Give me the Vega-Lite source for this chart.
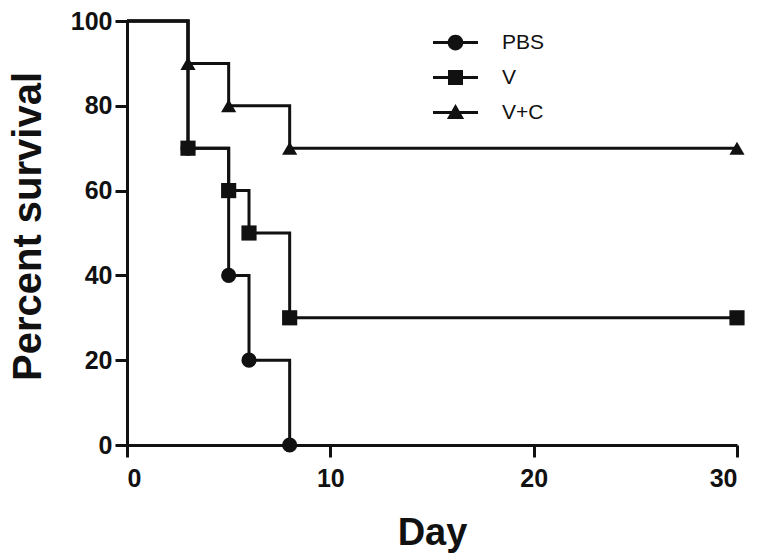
{
  "$schema": "https://vega.github.io/schema/vega-lite/v6.json",
  "autosize": "none",
  "width": 610,
  "height": 424,
  "padding": {"left": 127, "top": 21, "right": 25, "bottom": 115},
  "background": "white",
  "config": {
    "view": {"stroke": null},
    "axis": {
      "grid": false,
      "domainColor": "#111111",
      "domainWidth": 3,
      "tickColor": "#111111",
      "tickWidth": 3,
      "tickSize": 12,
      "labelFont": "Liberation Sans",
      "labelFontWeight": "bold",
      "labelFontSize": 25,
      "labelColor": "#111111",
      "labelPadding": 3,
      "titleFont": "Liberation Sans",
      "titleFontWeight": "bold",
      "titleColor": "#111111"
    }
  },
  "data": {
    "values": [
      {"group": "PBS", "day": 0, "pct": 100, "marker": false},
      {"group": "PBS", "day": 3, "pct": 70, "marker": true},
      {"group": "PBS", "day": 5, "pct": 40, "marker": true},
      {"group": "PBS", "day": 6, "pct": 20, "marker": true},
      {"group": "PBS", "day": 8, "pct": 0, "marker": true},
      {"group": "V", "day": 0, "pct": 100, "marker": false},
      {"group": "V", "day": 3, "pct": 70, "marker": true},
      {"group": "V", "day": 5, "pct": 60, "marker": true},
      {"group": "V", "day": 6, "pct": 50, "marker": true},
      {"group": "V", "day": 8, "pct": 30, "marker": true},
      {"group": "V", "day": 30, "pct": 30, "marker": true},
      {"group": "V+C", "day": 0, "pct": 100, "marker": false},
      {"group": "V+C", "day": 3, "pct": 90, "marker": true},
      {"group": "V+C", "day": 5, "pct": 80, "marker": true},
      {"group": "V+C", "day": 8, "pct": 70, "marker": true},
      {"group": "V+C", "day": 30, "pct": 70, "marker": true}
    ]
  },
  "encoding": {
    "x": {
      "field": "day",
      "type": "quantitative",
      "scale": {"domain": [0, 30], "nice": false},
      "axis": {"values": [0, 10, 20, 30], "title": "Day", "titleFontSize": 38, "titlePadding": 23, "labelPadding": 9}
    },
    "y": {
      "field": "pct",
      "type": "quantitative",
      "scale": {"domain": [0, 100], "nice": false},
      "axis": {"values": [0, 20, 40, 60, 80, 100], "title": "Percent survival", "titleFontSize": 40, "titlePadding": 22, "titleY": 205}
    }
  },
  "resolve": {"scale": {"shape": "independent"}, "legend": {"shape": "independent"}},
  "layer": [
    {
      "mark": {"type": "line", "interpolate": "step-after", "color": "#111111", "strokeWidth": 3},
      "encoding": {"detail": {"field": "group", "type": "nominal"}}
    },
    {
      "transform": [{"filter": "datum.marker"}],
      "mark": {"type": "point", "filled": true, "color": "#111111", "opacity": 1, "size": 230},
      "encoding": {
        "shape": {
          "field": "group",
          "type": "nominal",
          "scale": {"domain": ["PBS", "V", "V+C"], "range": ["circle", "square", "triangle-up"]},
          "legend": null
        }
      }
    },
    {
      "transform": [{"filter": "false"}],
      "mark": {"type": "point", "filled": true, "color": "#111111", "opacity": 1},
      "encoding": {
        "shape": {
          "field": "group",
          "type": "nominal",
          "scale": {
            "domain": ["PBS", "V", "V+C"],
            "range": [
              "M-3,-0.2H3V0.2H-3ZM1.05,0A1.05,1.05 0 1,1 -1.05,0A1.05,1.05 0 1,1 1.05,0Z",
              "M-3,-0.2H3V0.2H-3ZM-1,-1H1V1H-1Z",
              "M-3,-0.2H3V0.2H-3ZM0,-1.15L1.15,0.85H-1.15Z"
            ]
          },
          "legend": {
            "title": null,
            "orient": "none",
            "legendX": 318,
            "legendY": 11,
            "padding": 0,
            "rowPadding": 13,
            "labelOffset": 36,
            "labelFont": "Liberation Sans",
            "labelFontSize": 21,
            "labelColor": "#111111",
            "symbolSize": 225,
            "symbolOpacity": 1,
            "symbolFillColor": "#111111",
            "symbolStrokeWidth": 0
          }
        }
      }
    }
  ]
}
